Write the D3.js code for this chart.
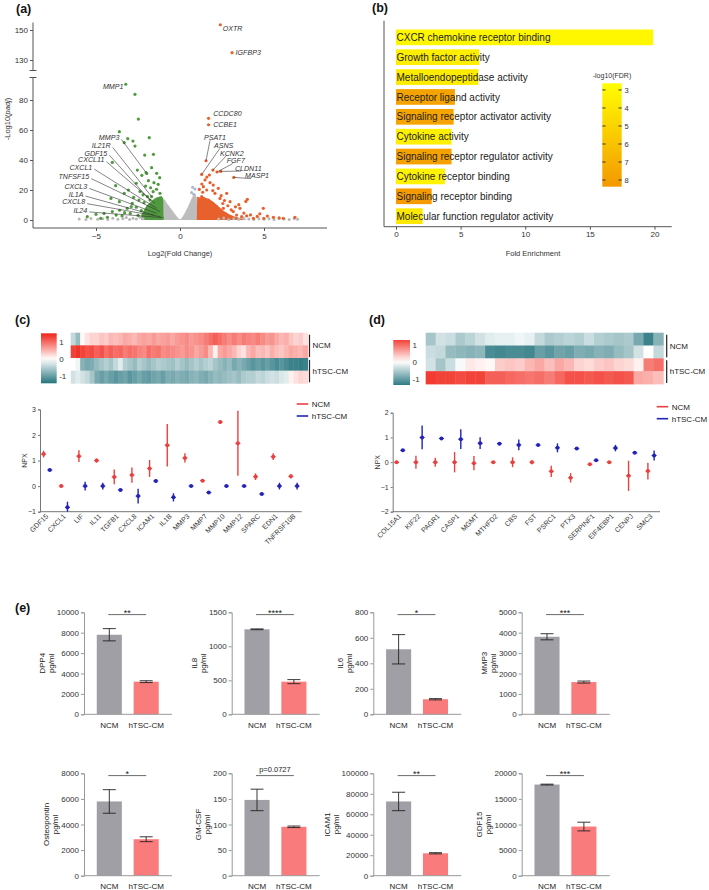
<!DOCTYPE html>
<html>
<head>
<meta charset="utf-8">
<script src="https://cdn.jsdelivr.net/npm/d3@7"></script>
<style>
body { margin: 0; background: #fff; }
svg { font-family: "Liberation Sans", Arial, Helvetica, sans-serif; }
</style>
</head>
<body>
<div id="fig"></div>
<script>
// ---------------- data ----------------
// (a) volcano
const upGenes = ["OXTR", "IGFBP3", "CCDC80", "CCBE1", "PSAT1", "ASNS", "KCNK2", "FGF7", "CLDN11", "MASP1"];
const upFC = [2.4, 3.1, 1.7, 1.7, 1.55, 1.29, 1.96, 2.2, 2.42, 3.2];
const upP = [153.5, 134.9, 67.8, 63.5, 39.5, 30.4, 33.3, 32, 32.4, 28.4];
const upLabelFC = [2.54, 3.31, 1.98, 1.98, 1.43, 2.02, 2.38, 2.78, 3.27, 3.87];
const upLabelP = [150.9, 134.9, 71.1, 64, 55.1, 49.8, 44.6, 39.6, 34.6, 29.6];

const downGenes = ["MMP1", "MMP3", "IL21R", "GDF15", "CXCL11", "CXCL1", "TNFSF15", "CXCL3", "IL1A", "CXCL8", "IL24"];
const downFC = [-3.23, -1.98, -1.69, -1.79, -1.49, -1.39, -1.19, -1.39, -1.55, -1.15, -1.05];
const downP = [90.5, 31, 15.6, 13.3, 11.1, 7.8, 5.6, 4.4, 3.3, 2.2, 1.6];
const downLabelFC = [-3.37, -3.61, -4.13, -4.33, -4.5, -5.22, -5.4, -5.52, -5.75, -5.65, -5.52];
const downLabelP = [89.3, 55.1, 49.8, 44.6, 40.2, 35.2, 28.9, 22.4, 17.3, 12.2, 6.7];

const greenPts = [
  [-2.68,83.8],[-2.48,67.3],[-3.61,58.9],[-3.11,54.2],[-1.83,54.9],[-3.32,51.6],[-2.8,52.6],[-2.68,49.3],
  [-2.1,43.3],[-1.58,43.8],[-4.03,38.4],[-2.54,33.3],[-2.02,31.6],[-1.69,34.9],[-1.39,31.1],[-2.27,29.8],
  [-1.88,26.2],[-1.55,24.9],[-1.21,28.2],[-3.83,22.9],[-3.32,17.8],[-3.07,20],[-2.38,19],[-2.76,15.1],
  [-4.11,14.4],[-3.61,12.2],[-4.52,4.4],[-5.0,3.8],[-5.52,2.2],[-4.72,1.1],[-4.32,1.8],[-4.03,5.6],
  [-3.14,7.8],[-2.84,11.1],[-2.44,13.3],[-2.14,11.6],[-1.94,15.6],[-1.19,17.8],[-3.45,2.7],[-2.96,4.4],
  [-2.6,8.5],[-2.3,6.2],[-2.5,3.1],[-3.8,3.3],[-3.3,4.9],[-2.2,16.8],[-1.6,18.9],[-1.4,20.5],
  [-1.75,21.5],[-2.9,9.0],[-3.6,6.5],[-2.05,22.6],[-1.3,23.8],[-2.6,24.5]
];
const orangePts = [
  [1.49,26.7],[1.79,24.9],[1.39,22.2],[1.98,23.3],[2.28,21.1],[1.59,20],[2.08,17.8],[2.38,14.4],
  [2.78,17.8],[2.98,12.2],[4.01,13.8],[3.92,12.4],[3.57,7.8],[4.96,7.8],[4.37,1.1],[4.99,1.1],
  [6.84,1.8],[3.17,5.6],[3.37,3.3],[3.67,2.2],[2.58,7.8],[2.18,8.9],[2.68,4.4],[2.98,2.2],
  [3.97,2.7],[5.56,1.8],[6.15,1.1],[1.29,15.6],[1.69,13.3],[1.19,11.1],[1.88,11.1],[1.75,30.0],
  [1.35,18.5],[2.55,11.0],[2.85,9.5],[3.3,8.8],[2.45,16.2],[1.95,19.6],[1.15,20.4],[2.2,5.5],
  [3.05,6.7],[3.8,4.6],[4.2,3.4],[4.6,2.4],[3.5,10.2],[2.65,13.0],[1.6,28.6],[1.3,24.0],
  [5.2,2.6],[5.9,1.4],[4.75,4.1]
];
const grayPts = [
  [-6.0,0.6],[-5.6,0.4],[-5.3,1.0],[-4.9,0.5],[-4.6,0.8],[-4.3,0.3],[-4.0,1.1],[-3.7,0.5],
  [-3.4,0.9],[-3.2,1.6],[-3.0,0.4],[-2.8,1.2],[-2.6,0.6],[-2.4,1.8],[-2.2,0.9],[2.3,0.6],
  [2.6,1.3],[2.9,0.4],[3.2,0.9],[3.5,0.5],[3.8,1.0],[4.1,0.6],[4.4,0.4],[4.7,0.9],
  [5.0,0.5],[5.3,0.8],[5.6,0.3],[5.9,1.0],[6.2,0.6],[6.5,0.4],[6.8,0.9],[7.0,0.5]
];
const bluePts = [[0.75,21.8],[0.69,18.4],[0.89,20.7],[0.82,17.2]];
// envelopes of the dense point clouds (top edge)
const grayCloud = [[-1.05,0],[-1.05,14],[-0.9,13.5],[-0.8,11.5],[-0.7,10],[-0.6,8.5],[-0.5,7],[-0.4,5.5],
  [-0.3,4],[-0.2,2.5],[-0.1,1.2],[0,0.4],[0.1,1.4],[0.2,3],[0.3,5],[0.4,7.2],[0.5,9.5],[0.6,12],
  [0.7,14.5],[0.8,16.5],[0.9,17.5],[1.0,15],[1.05,0]];
const greenCloud = [[-2.3,0],[-2.3,3.5],[-2.15,6.5],[-2.0,9.5],[-1.85,11],[-1.7,12.5],[-1.55,14],
  [-1.4,15],[-1.25,15.5],[-1.1,16],[-1.0,14.5],[-0.98,0]];
const orangeCloud = [[1.0,0],[1.02,15.5],[1.2,15],[1.4,15.5],[1.6,14.5],[1.8,13.5],[2.0,12],[2.2,10],
  [2.4,8],[2.6,6],[2.9,4],[3.2,2.5],[3.6,1.2],[4.0,0]];
const volcanoXTicks = [-5, 0, 5];
const volcanoYTicksLow = [0, 20, 40, 60, 80];
const volcanoYTicksHigh = [130, 150];

// (b) GO enrichment
const goTerms = ["CXCR chemokine receptor binding", "Growth factor activity", "Metalloendopeptidase activity",
  "Receptor ligand activity", "Signaling receptor activator activity", "Cytokine activity",
  "Signaling receptor regulator activity", "Cytokine receptor binding", "Signaling receptor binding",
  "Molecular function regulator activity"];
const goFold = [19.9, 6.45, 6.37, 4.56, 4.46, 4.3, 4.3, 3.79, 2.76, 2.06];
const goFDR = [3.0, 3.5, 3.6, 7.8, 7.7, 3.4, 7.9, 3.2, 8.2, 3.8];
const goXTicks = [0, 5, 10, 15, 20];
const fdrTicks = [3, 4, 5, 6, 7, 8];

// (c) heatmap + NPX
const heatC = [
  [-0.4,-0.7,0.05,0.2,0.3,0.3,0.4,0.35,0.5,0.45,0.5,0.6,0.55,0.5,0.6,0.65,0.6,0.7,0.6,0.65,0.7,0.6,0.7,0.75,0.8,
   0.7,0.75,0.8,0.9,1.0,1.1,1.0,0.9,0.8,0.9,0.8,0.9,0.85,0.8,0.9,0.8,0.7,0.75,0.6,0.5,0.55,0.4,0.3,0.35,0.2],
  [1.3,1.4,1.3,1.2,1.25,1.1,1.2,1.0,1.1,1.0,1.05,0.9,1.0,0.95,0.85,0.8,1.0,0.9,0.95,0.8,0.85,0.8,0.75,0.7,0.8,
   0.75,0.6,0.7,0.8,0.5,0.1,0.6,0.7,0.6,0.5,0.3,0.2,0.5,0.6,0.45,0.5,0.4,0.55,0.45,0.4,0.5,0.6,0.55,0.5,0.6],
  [0.0,-0.1,-0.8,-0.9,-0.85,-0.7,-0.6,-0.5,-0.6,-0.4,-0.2,-0.5,-0.6,-0.7,-0.5,-0.6,-0.7,-0.6,-0.5,-0.55,-0.6,-0.65,-0.5,-0.6,-0.7,
   -0.6,-0.5,-0.6,-0.5,-0.45,-0.6,-0.7,-0.8,-0.7,-0.9,-0.8,-0.9,-1.0,-1.1,-1.0,-1.1,-1.0,-1.1,-1.2,-1.1,-1.2,-1.3,-1.3,-1.35,-1.3],
  [-0.3,-0.2,-0.3,-0.4,-0.6,-0.9,-1.0,-0.9,-1.0,-1.1,-1.0,-0.95,-1.1,-1.0,-0.9,-1.0,-1.05,-0.95,-0.9,-1.0,-0.85,-0.9,-0.8,-0.85,-0.9,
   -0.8,-0.75,-0.85,-0.9,-0.8,-0.7,-0.75,-0.7,-0.65,-0.6,-0.7,-0.55,-0.5,-0.5,-0.4,-0.45,-0.35,-0.3,-0.35,-0.25,-0.2,0.1,0.2,0.3,0.25]
];
const cGenes = ["GDF15", "CXCL1", "LIF", "IL11", "TGFB1", "CXCL8", "ICAM1", "IL1B", "MMP3", "MMP7", "MMP10", "MMP12", "SPARC", "EDN1", "TNFRSF10B"];
const cNCM = [1.25, 0.0, 1.17, 1.0, 0.36, 0.43, 0.69, 1.6, 1.1, 0.21, 2.5, 1.67, 0.37, 1.15, 0.38];
const cNCMerr = [0.13, 0.05, 0.23, 0.08, 0.29, 0.3, 0.33, 0.83, 0.18, 0.04, 0.07, 1.27, 0.13, 0.13, 0.08];
const cTSC = [0.63, -0.83, 0.0, 0.0, -0.15, -0.39, 0.2, -0.44, 0.0, -0.25, 0.0, 0.0, -0.31, 0.0, 0.0];
const cTSCerr = [0.05, 0.22, 0.17, 0.13, 0.05, 0.29, 0.08, 0.16, 0.03, 0.05, 0.04, 0.03, 0.03, 0.13, 0.13];
const cYTicks = [-1, 0, 1, 2, 3];

// (d) heatmap + NPX
const heatD = [
  [-0.6,-0.3,-0.35,-0.55,-0.45,-0.3,-0.2,-0.15,-0.15,-0.1,-0.15,-0.4,-0.55,-0.5,-0.45,-0.5,-0.35,-0.5,-0.55,-0.6,-0.55,-0.9,-1.3,-0.8],
  [-0.35,-0.4,-0.7,-0.75,-0.8,-0.75,-1.2,-1.25,-1.2,-1.2,-1.25,-1.0,-1.1,-0.95,-1.0,-0.85,-0.9,-0.8,-0.85,-0.7,-0.6,-0.3,0.0,-0.4],
  [-0.3,-0.6,-0.35,-0.05,0.15,0.1,0.05,0.35,0.4,0.35,0.5,0.6,0.45,0.6,0.5,0.3,0.25,0.35,0.4,0.3,0.25,0.1,0.9,1.0],
  [1.35,1.3,1.3,1.25,1.3,1.3,1.1,1.1,1.05,1.0,0.95,1.0,0.9,1.05,1.2,1.2,1.15,1.2,1.15,1.2,1.15,0.6,0.55,0.45]
];
const dGenes = ["COL15A1", "KIF22", "PAGR1", "CASP1", "MGMT", "MTHFD2", "CBS", "FST", "PSRC1", "PTX3", "SERPINF1", "EIF4EBP1", "CENPJ", "SMC3"];
const dNCM = [0.0, 0.0, 0.0, 0.0, -0.04, 0.0, 0.0, 0.0, -0.37, -0.63, -0.08, 0.0, -0.55, -0.36];
const dNCMerr = [0.04, 0.26, 0.18, 0.41, 0.29, 0.03, 0.2, 0.08, 0.23, 0.19, 0.03, 0.05, 0.61, 0.34];
const dTSC = [0.48, 1.0, 0.96, 0.93, 0.77, 0.75, 0.7, 0.69, 0.58, 0.55, 0.08, 0.57, 0.38, 0.27];
const dTSCerr = [0.05, 0.48, 0.06, 0.4, 0.24, 0.03, 0.22, 0.04, 0.18, 0.06, 0.03, 0.13, 0.04, 0.2];
const dYTicks = [-2, -1, 0, 1, 2];

// (e) ELISA
const groups = ["NCM", "hTSC-CM"];
const elisaNames = ["DPP4", "IL8", "IL6", "MMP3", "Osteopontin", "GM-CSF", "ICAM1", "GDF15"];
const elisaNCM = [7800, 1250, 510, 3800, 5800, 148, 72500, 17800];
const elisaNCMerr = [600, 6, 115, 150, 920, 21, 9000, 80];
const elisaTSC = [3200, 480, 118, 1580, 2850, 95.5, 21900, 9600];
const elisaTSCerr = [90, 30, 5, 50, 190, 1.5, 600, 850];
const elisaMax = [10000, 1500, 800, 5000, 8000, 200, 100000, 20000];
const elisaStep = [2000, 500, 200, 1000, 2000, 50, 20000, 5000];
const elisaSig = ["**", "****", "*", "***", "*", "p=0.0727", "**", "***"];

// ---------------- drawing ----------------
const FONT = '"Liberation Sans", Arial, Helvetica, sans-serif';
const RED = "#e8413f", BLUE = "#2323b8";
const svg = d3.select("#fig").append("svg").attr("width", 709).attr("height", 890);

function styleAxis(g, fs, col) {
  g.attr("font-family", FONT).attr("font-size", fs);
  g.selectAll("text").attr("fill", "#333");
  g.selectAll("line,path").attr("stroke", col || "#555");
}

function panelLabel(t, x, y) {
  svg.append("text").attr("x", x).attr("y", y).attr("font-size", 12.5).attr("font-weight", "bold")
    .attr("fill", "#111").text(t);
}
panelLabel("(a)", 16, 13);
panelLabel("(b)", 372, 12);
panelLabel("(c)", 15, 324);
panelLabel("(d)", 369, 324);
panelLabel("(e)", 15, 612);

// ===== (a) volcano =====
const vx = d3.scaleLinear().domain([-8.75, 8.75]).range([33, 327]);
const vyLow = d3.scaleLinear().domain([0, 95]).range([220, 77.5]);
const vyHigh = d3.scaleLinear().domain([123, 155]).range([70.5, 22.5]);
const vy = v => v > 110 ? vyHigh(v) : vyLow(v);
const ga = svg.append("g");

const cloudArea = d3.area().x(d => vx(d[0])).y0(vyLow(0)).y1(d => vyLow(d[1]));
ga.append("path").datum(grayCloud).attr("d", cloudArea).attr("fill", "#bdbdbd");
ga.append("path").datum(greenCloud).attr("d", cloudArea).attr("fill", "#4f9a3f");
ga.append("path").datum(orangeCloud).attr("d", cloudArea).attr("fill", "#e8602c");

function dots(data, col, r) {
  ga.append("g").selectAll("circle").data(data).join("circle")
    .attr("cx", d => vx(d[0])).attr("cy", d => vy(d[1])).attr("r", r).attr("fill", col);
}
dots(grayPts, "#b8b8b8", 1.5);
dots(greenPts, "#4f9a3f", 1.6);
dots(orangePts, "#e8602c", 1.6);
dots(bluePts, "#aab8cf", 1.5);
dots(upFC.map((f, i) => [f, upP[i]]), "#e8602c", 1.6);
dots(downFC.map((f, i) => [f, downP[i]]), "#4f9a3f", 1.6);

// label leader lines
ga.append("g").selectAll("line").data(downGenes.slice(1)).join("line")
  .attr("x1", (d, i) => vx(downLabelFC[i + 1]) + 2).attr("y1", (d, i) => vy(downLabelP[i + 1]) + 2)
  .attr("x2", (d, i) => vx(downFC[i + 1])).attr("y2", (d, i) => vy(downP[i + 1]))
  .attr("stroke", "#333").attr("stroke-width", 0.6);
ga.append("g").selectAll("line").data(upGenes.slice(4)).join("line")
  .attr("x1", (d, i) => vx(upLabelFC[i + 4]) + 6).attr("y1", (d, i) => vy(upLabelP[i + 4]) + 3)
  .attr("x2", (d, i) => vx(upFC[i + 4])).attr("y2", (d, i) => vy(upP[i + 4]))
  .attr("stroke", "#333").attr("stroke-width", 0.6);

ga.append("g").selectAll("text").data(downGenes).join("text")
  .attr("x", (d, i) => vx(downLabelFC[i])).attr("y", (d, i) => vy(downLabelP[i]) + 2.6)
  .attr("text-anchor", "end").attr("font-size", 7.1).attr("font-style", "italic").attr("fill", "#333")
  .text(d => d);
ga.append("g").selectAll("text").data(upGenes).join("text")
  .attr("x", (d, i) => vx(upLabelFC[i])).attr("y", (d, i) => vy(upLabelP[i]) + 2.6)
  .attr("font-size", 7.1).attr("font-style", "italic").attr("fill", "#333").text(d => d);

// axes
const yLowG = ga.append("g").attr("transform", "translate(33,0)")
  .call(d3.axisLeft(vyLow).tickValues(volcanoYTicksLow).tickSize(3).tickPadding(2));
yLowG.select(".domain").remove();
styleAxis(yLowG, 8);
const yHighG = ga.append("g").attr("transform", "translate(33,0)")
  .call(d3.axisLeft(vyHigh).tickValues(volcanoYTicksHigh).tickSize(3).tickPadding(2));
yHighG.select(".domain").remove();
styleAxis(yHighG, 8);
ga.append("line").attr("x1", 33).attr("x2", 33).attr("y1", vyLow(95)).attr("y2", 228).attr("stroke", "#555");
ga.append("line").attr("x1", 33).attr("x2", 33).attr("y1", vyHigh(123) - 0.5).attr("y2", vyHigh(155)).attr("stroke", "#555");
[vyHigh(123), vyLow(95)].forEach(y => ga.append("line").attr("x1", 29.5).attr("x2", 36.5)
  .attr("y1", y).attr("y2", y).attr("stroke", "#555"));
const vxG = ga.append("g").attr("transform", "translate(0,228)")
  .call(d3.axisBottom(vx).tickValues(volcanoXTicks).tickSize(3).tickPadding(2));
styleAxis(vxG, 8);
vxG.select(".domain").attr("d", "M33,0H327");
ga.append("text").attr("x", 180).attr("y", 256).attr("text-anchor", "middle").attr("font-size", 7.5)
  .attr("fill", "#333").text("Log2(Fold Change)");
const yt = ga.append("text").attr("transform", "translate(10,119) rotate(-90)").attr("text-anchor", "middle")
  .attr("font-size", 7.5).attr("fill", "#333");
yt.append("tspan").text("-Log10(");
yt.append("tspan").attr("font-style", "italic").text("padj");
yt.append("tspan").text(")");

// ===== (b) GO bars =====
const gb = svg.append("g");
const fx = d3.scaleLinear().domain([0, 20]).range([396, 654.5]);
const fy = d3.scaleBand().domain(goTerms).range([27.4, 226.1]).paddingInner(0.21).paddingOuter(0.105);
const fdrColor = d3.scaleLinear().domain([3, 8]).range(["#fff700", "#f59f00"]);
gb.selectAll("rect.bar").data(goTerms).join("rect").attr("class", "bar")
  .attr("x", fx(0)).attr("y", d => fy(d)).attr("height", fy.bandwidth())
  .attr("width", (d, i) => fx(goFold[i]) - fx(0)).attr("fill", (d, i) => fdrColor(goFDR[i]));
gb.selectAll("text.lab").data(goTerms).join("text").attr("class", "lab")
  .attr("x", fx(0) + 0.5).attr("y", d => fy(d) + fy.bandwidth() / 2 + 3.6)
  .attr("font-size", 10).attr("fill", "#222").text(d => d);
const fxG = gb.append("g").attr("transform", "translate(0,226.7)")
  .call(d3.axisBottom(fx).tickValues(goXTicks).tickSize(3).tickPadding(2));
styleAxis(fxG, 8);
fxG.select(".domain").attr("d", "M384,0H671.7");
gb.append("line").attr("x1", 384).attr("x2", 384).attr("y1", 20.7).attr("y2", 226.7).attr("stroke", "#555");
gb.append("text").attr("x", 533).attr("y", 255.5).attr("text-anchor", "middle").attr("font-size", 7.5)
  .attr("fill", "#333").text("Fold Enrichment");
// colour legend
const defs = svg.append("defs");
const lgB = defs.append("linearGradient").attr("id", "gFDR").attr("x1", 0).attr("x2", 0).attr("y1", 0).attr("y2", 1);
lgB.append("stop").attr("offset", "0%").attr("stop-color", fdrColor(2.63));
lgB.append("stop").attr("offset", "100%").attr("stop-color", fdrColor(8.37));
const fdrY = d3.scaleLinear().domain([2.63, 8.37]).range([83.3, 186.7]);
gb.append("rect").attr("x", 602.3).attr("y", fdrY(2.63)).attr("width", 19.4)
  .attr("height", fdrY(8.37) - fdrY(2.63)).attr("fill", "url(#gFDR)");
fdrTicks.forEach(t => {
  gb.append("line").attr("x1", 602.3).attr("x2", 605.5).attr("y1", fdrY(t)).attr("y2", fdrY(t)).attr("stroke", "#333");
  gb.append("line").attr("x1", 618.5).attr("x2", 621.7).attr("y1", fdrY(t)).attr("y2", fdrY(t)).attr("stroke", "#333");
  gb.append("text").attr("x", 624.5).attr("y", fdrY(t) + 3).attr("font-size", 7.5).attr("fill", "#333").text(t);
});
gb.append("text").attr("x", 612).attr("y", 77.5).attr("text-anchor", "middle").attr("font-size", 7)
  .attr("fill", "#333").text("-log10(FDR)");

// ===== heatmaps =====
const heatColor = d3.scaleLinear().domain([-1.5, 0, 1.5]).range(["#1d6f79", "#ffffff", "#f0261b"]).clamp(true);

function heatmap(vals, x0, x1, y0, y1, bar, bracketX) {
  const g = svg.append("g");
  const hx = d3.scaleBand().domain(d3.range(vals[0].length)).range([x0, x1]);
  const hy = d3.scaleBand().domain(d3.range(vals.length)).range([y0, y1]);
  vals.forEach((row, r) => {
    g.append("g").selectAll("rect").data(row).join("rect")
      .attr("x", (d, i) => hx(i)).attr("y", hy(r)).attr("width", hx.bandwidth() + 0.4)
      .attr("height", hy.bandwidth() + 0.4).attr("fill", d => heatColor(d));
  });
  const id = "hg" + Math.round(x0);
  const lg = defs.append("linearGradient").attr("id", id).attr("x1", 0).attr("x2", 0).attr("y1", 0).attr("y2", 1);
  d3.range(0, 1.001, 0.1).forEach(t => lg.append("stop").attr("offset", t)
    .attr("stop-color", heatColor(bar.top + (bar.bot - bar.top) * t)));
  const by = d3.scaleLinear().domain([bar.bot, bar.top]).range([bar.y1, bar.y0]);
  g.append("rect").attr("x", bar.x).attr("y", bar.y0).attr("width", bar.w).attr("height", bar.y1 - bar.y0)
    .attr("fill", "url(#" + id + ")");
  [1, 0, -1].forEach(t => g.append("text").attr("x", bar.x + bar.w + 2.5).attr("y", by(t) + 3)
    .attr("font-size", 8).attr("fill", "#333").text(t));
  // group brackets
  [["NCM", 0, 1], ["hTSC-CM", 2, 3]].forEach(([lab, a, b]) => {
    g.append("line").attr("x1", bracketX).attr("x2", bracketX).attr("y1", hy(a) + 2)
      .attr("y2", hy(b) + hy.bandwidth() - 1).attr("stroke", "#222").attr("stroke-width", 1.2);
    g.append("text").attr("x", bracketX + 3).attr("y", (hy(a) + hy(b) + hy.bandwidth()) / 2 + 3)
      .attr("font-size", 8).attr("fill", "#222").text(lab);
  });
}
heatmap(heatC, 70.7, 307.7, 332.7, 383.3, { x: 41, w: 15.7, y0: 333.3, y1: 383.3, top: 1.55, bot: -1.45 }, 309.5);
heatmap(heatD, 425.7, 663.3, 332.7, 384, { x: 393.3, w: 16.7, y0: 340, y1: 385, top: 1.3, bot: -1.38 }, 666.7);

// ===== NPX dot plots =====
function npx(genes, ncm, ncmErr, tsc, tscErr, ticks, xr, axisX, axisEnd, yDom, yr, legX, legY) {
  const g = svg.append("g");
  const px = d3.scalePoint().domain(genes).range(xr);
  const py = d3.scaleLinear().domain(yDom).range(yr);
  const yG = g.append("g").attr("transform", `translate(${axisX},0)`)
    .call(d3.axisLeft(py).tickValues(ticks).tickSize(2).tickPadding(2).tickFormat(d3.format("d")));
  styleAxis(yG, 7, "#777");
  g.append("line").attr("x1", axisX).attr("x2", axisEnd).attr("y1", yr[0]).attr("y2", yr[0]).attr("stroke", "#777");
  g.append("text").attr("transform", `translate(${axisX - 13},${(yr[0] + yr[1]) / 2}) rotate(-90)`)
    .attr("text-anchor", "middle").attr("font-size", 7).attr("fill", "#333").text("NPX");
  g.selectAll("text.gl").data(genes).join("text").attr("class", "gl")
    .attr("transform", d => `translate(${px(d) + 2},${yr[0] + 5}) rotate(-45)`)
    .attr("text-anchor", "end").attr("font-size", 7).attr("fill", "#333").text(d => d);
  [[ncm, ncmErr, RED, -3.1], [tsc, tscErr, BLUE, 3.1]].forEach(([m, e, col, off]) => {
    const s = g.append("g");
    s.selectAll("line.eb").data(genes).join("line").attr("class", "eb")
      .attr("x1", d => px(d) + off).attr("x2", d => px(d) + off)
      .attr("y1", (d, i) => py(Math.max(yDom[0], m[i] - e[i]))).attr("y2", (d, i) => py(m[i] + e[i]))
      .attr("stroke", col).attr("stroke-width", 1.4);
    s.selectAll("circle").data(genes).join("circle")
      .attr("cx", d => px(d) + off).attr("cy", (d, i) => py(m[i])).attr("r", 2).attr("fill", col);
    s.selectAll("line.mb").data(genes).join("line").attr("class", "mb")
      .attr("x1", d => px(d) + off - 2.5).attr("x2", d => px(d) + off + 2.5)
      .attr("y1", (d, i) => py(m[i])).attr("y2", (d, i) => py(m[i]))
      .attr("stroke", col).attr("stroke-width", 1);
  });
  [["NCM", RED, 0], ["hTSC-CM", BLUE, 12]].forEach(([lab, col, dy]) => {
    g.append("line").attr("x1", legX).attr("x2", legX + 11.5).attr("y1", legY + dy).attr("y2", legY + dy)
      .attr("stroke", col).attr("stroke-width", 1.6);
    g.append("text").attr("x", legX + 15).attr("y", legY + dy + 3).attr("font-size", 8).attr("fill", "#222").text(lab);
  });
}
npx(cGenes, cNCM, cNCMerr, cTSC, cTSCerr, cYTicks, [46.7, 294], 40, 301.7, [-1, 3], [511.7, 409.3], 296.7, 404);
npx(dGenes, dNCM, dNCMerr, dTSC, dTSCerr, dYTicks, [399.7, 651], 392.7, 660, [-2, 2], [511.7, 412.7], 656.7, 406.7);

// ===== (e) ELISA bars =====
const colX = [84, 231.7, 373.3, 521.7];
const rowY = [[612.3, 714.3], [773.3, 875.7]];
elisaNames.forEach((name, i) => {
  const x0 = colX[i % 4];
  const [yTop, yBot] = rowY[Math.floor(i / 4)];
  const g = svg.append("g");
  const bx = d3.scaleBand().domain(groups).range([x0 + 6.5, x0 + 81]).paddingInner(0.32).paddingOuter(0.17);
  const by = d3.scaleLinear().domain([0, elisaMax[i]]).range([yBot, yTop]);
  const vals = [elisaNCM[i], elisaTSC[i]], errs = [elisaNCMerr[i], elisaTSCerr[i]];
  g.selectAll("rect").data(groups).join("rect")
    .attr("x", d => bx(d)).attr("width", bx.bandwidth())
    .attr("y", (d, j) => by(vals[j])).attr("height", (d, j) => yBot - by(vals[j]))
    .attr("fill", (d, j) => j ? "#fa7b7b" : "#9f9fa5");
  groups.forEach((gname, j) => {
    const cx = bx(gname) + bx.bandwidth() / 2;
    const lo = by(vals[j] - errs[j]), hi = by(vals[j] + errs[j]);
    g.append("line").attr("x1", cx).attr("x2", cx).attr("y1", lo).attr("y2", hi).attr("stroke", "#222").attr("stroke-width", 0.9);
    [lo, hi].forEach(y => g.append("line").attr("x1", cx - 6.5).attr("x2", cx + 6.5).attr("y1", y).attr("y2", y)
      .attr("stroke", "#222").attr("stroke-width", 0.9));
  });
  const yG = g.append("g").attr("transform", `translate(${x0},0)`)
    .call(d3.axisLeft(by).tickValues(d3.range(0, elisaMax[i] + 1, elisaStep[i])).tickSize(3).tickPadding(2).tickFormat(d3.format("d")));
  styleAxis(yG, 8, "#999");
  g.append("line").attr("x1", x0).attr("x2", x0 + 88).attr("y1", yBot).attr("y2", yBot).attr("stroke", "#999");
  g.selectAll("text.xl").data(groups).join("text").attr("class", "xl")
    .attr("x", d => bx(d) + bx.bandwidth() / 2).attr("y", yBot + 13.5)
    .attr("text-anchor", "middle").attr("font-size", 8).attr("fill", "#222").text(d => d);
  // significance
  const c0 = bx("NCM") + bx.bandwidth() / 2 - 1, c1 = bx("hTSC-CM") + bx.bandwidth() / 2;
  const ly = yTop + 2.3;
  g.append("line").attr("x1", c0).attr("x2", c1).attr("y1", ly).attr("y2", ly).attr("stroke", "#444").attr("stroke-width", 0.8);
  const isP = elisaSig[i].startsWith("p");
  g.append("text").attr("x", (c0 + c1) / 2).attr("y", isP ? ly - 3.5 : ly + 1.2).attr("text-anchor", "middle")
    .attr("font-size", isP ? 7.5 : 9).attr("fill", "#222").text(elisaSig[i]);
  // y title (two rotated lines)
  const w = yG.node().getBBox().width;
  const ymid = (yTop + yBot) / 2;
  g.append("text").attr("transform", `translate(${x0 - w - 11.5},${ymid}) rotate(-90)`)
    .attr("text-anchor", "middle").attr("font-size", 8).attr("fill", "#222").text(name);
  g.append("text").attr("transform", `translate(${x0 - w - 2.5},${ymid}) rotate(-90)`)
    .attr("text-anchor", "middle").attr("font-size", 8).attr("fill", "#222").text("pg/ml");
});
</script>
</body>
</html>
